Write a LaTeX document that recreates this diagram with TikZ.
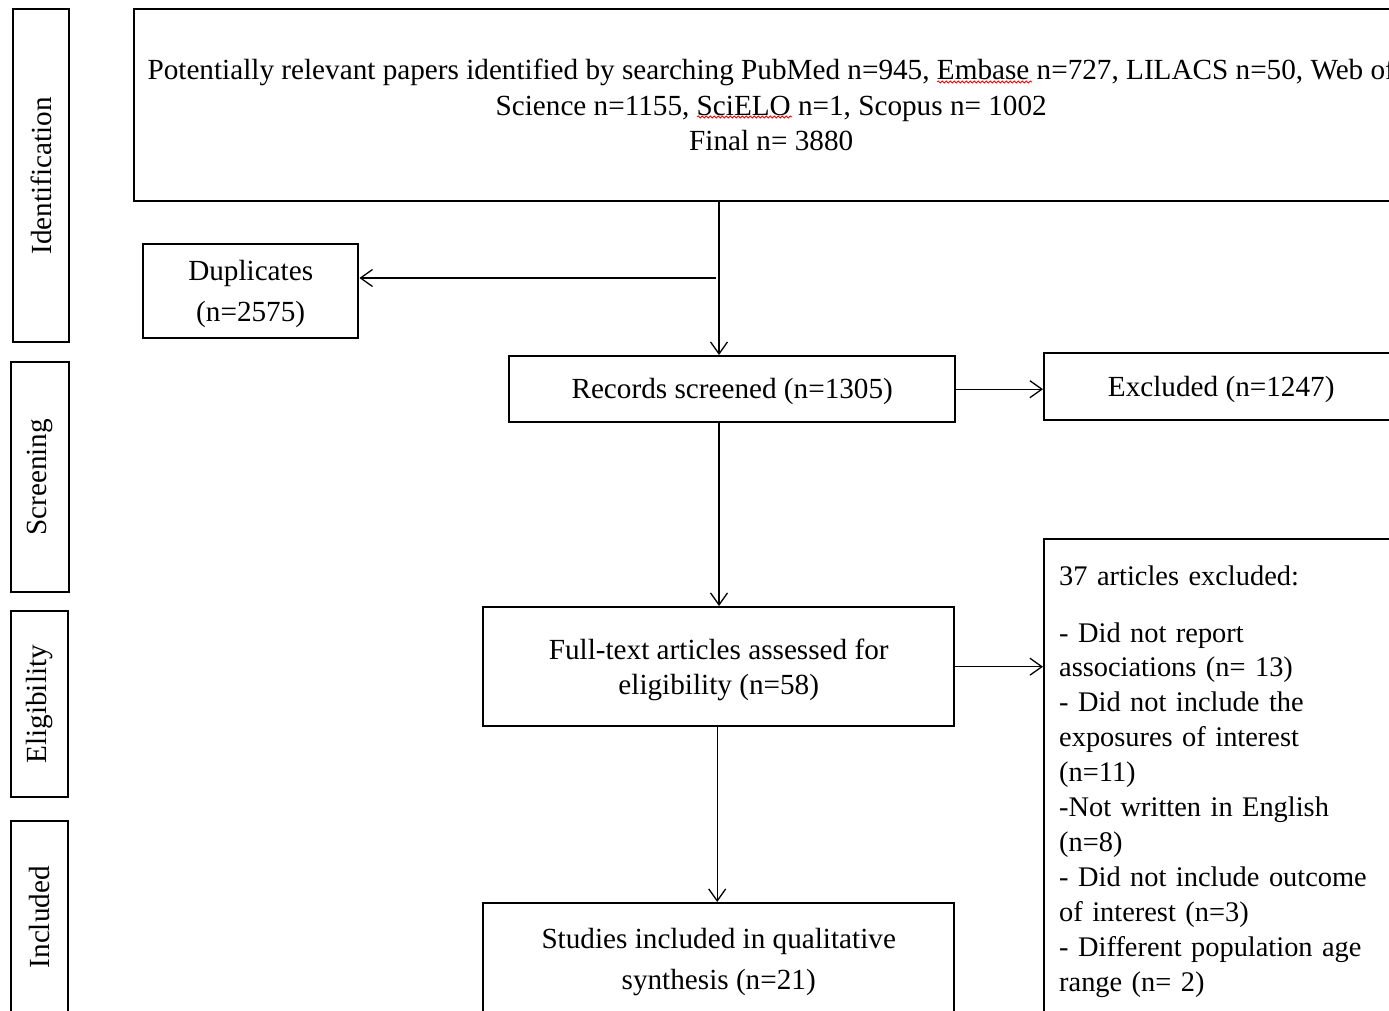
\documentclass[tikz,border=0pt]{standalone}
\usepackage{fontspec}
\setmainfont{Liberation Serif}
\usetikzlibrary{arrows.meta,decorations.pathmorphing}
\newcommand\dn[1]{\rule{0pt}{#1pt}}
\begin{document}
\begin{tikzpicture}[x=1pt,y=-1pt,
  box/.style={draw,line width=2.4pt,inner sep=0pt,anchor=north west,align=center,
    font=\fontsize{29.2}{35.5}\selectfont},
  labtext/.style={rotate=90,font=\fontsize{29.2}{35.5}\selectfont},
  arr/.style={line width=1.3pt,-{Straight Barb[length=12pt,width=17pt,line width=1.3pt]}},
  squig/.style={red,line width=0.8pt,decorate,decoration={snake,amplitude=1.1pt,segment length=4pt}}]
\useasboundingbox (0,0) rectangle (1389,1011);
\clip (0,0) rectangle (1389,1011);
% stage labels
\node[box,minimum width=56pt,minimum height=333pt] (lid) at (12,8) {};
\node[labtext] at (lid.center) {Identification};
\node[box,minimum width=58pt,minimum height=230pt] (lsc) at (10,361) {};
\node[labtext] at (lsc.center) {Screening};
\node[box,minimum width=57pt,minimum height=186pt] (lel) at (10,610) {};
\node[labtext] at (lel.center) {Eligibility};
\node[box,minimum width=57pt,minimum height=192pt] (lin) at (10,820) {};
\node[labtext] at (lin.center) {Included};
% main boxes
\node[box,minimum width=1274pt,minimum height=192pt] (top) at (133,8)
  {Potentially relevant papers identified by searching PubMed n=945, Embase n=727, LILACS n=50, Web of\\
   Science n=1155, SciELO n=1, Scopus n= 1002\\ Final n= 3880};
\draw[squig] (937,82) -- (1032,82);
\draw[squig] (697,117) -- (792,117);
\node[box,minimum width=215pt,minimum height=94pt,font=\fontsize{29.2}{41}\selectfont] (dup) at (142,243)
  {\dn{25}Duplicates\\(n=2575)};
\node[box,minimum width=446pt,minimum height=66pt] (rec) at (508,355) {\dn{25}Records screened (n=1305)};
\node[box,minimum width=354pt,minimum height=67pt] (exc) at (1043,352) {\dn{26}Excluded (n=1247)};
\node[box,minimum width=471pt,minimum height=119pt] (ft) at (482,606)
  {\dn{27}Full-text articles assessed for\\eligibility (n=58)};
\node[box,minimum width=471pt,minimum height=112pt,font=\fontsize{29.2}{41}\selectfont] (st) at (482,902)
  {\dn{26}Studies included in qualitative\\synthesis (n=21)};
\node[box,minimum width=360pt,minimum height=482pt,align=left,text width=330pt,
      font=\fontsize{28.4}{34.9}\selectfont] (ex2) at (1043,538)
  {\dn{22}37 articles excluded:\\[22pt]
   - Did not report\\ associations (n= 13)\\ - Did not include the\\ exposures of interest\\ (n=11)\\
   -Not written in English\\ (n=8)\\ - Did not include outcome\\ of interest (n=3)\\
   - Different population age\\ range (n= 2)};
% connectors
\coordinate (sp) at (719,0);
\coordinate (j1) at (716,278);
\draw[arr] (top.south -| sp) -- (rec.north -| sp);
\draw[arr] (j1) -- (j1 -| dup.east);
\draw[arr] (rec.east) -- (rec.east -| exc.west);
\draw[arr] (rec.south -| sp) -- (ft.north -| sp);
\draw[arr] (ft.east) -- (ft.east -| ex2.west);
\draw[arr] ([xshift=-1.5pt]ft.south) -- ([xshift=-1.5pt]st.north);
\end{tikzpicture}
\end{document}
